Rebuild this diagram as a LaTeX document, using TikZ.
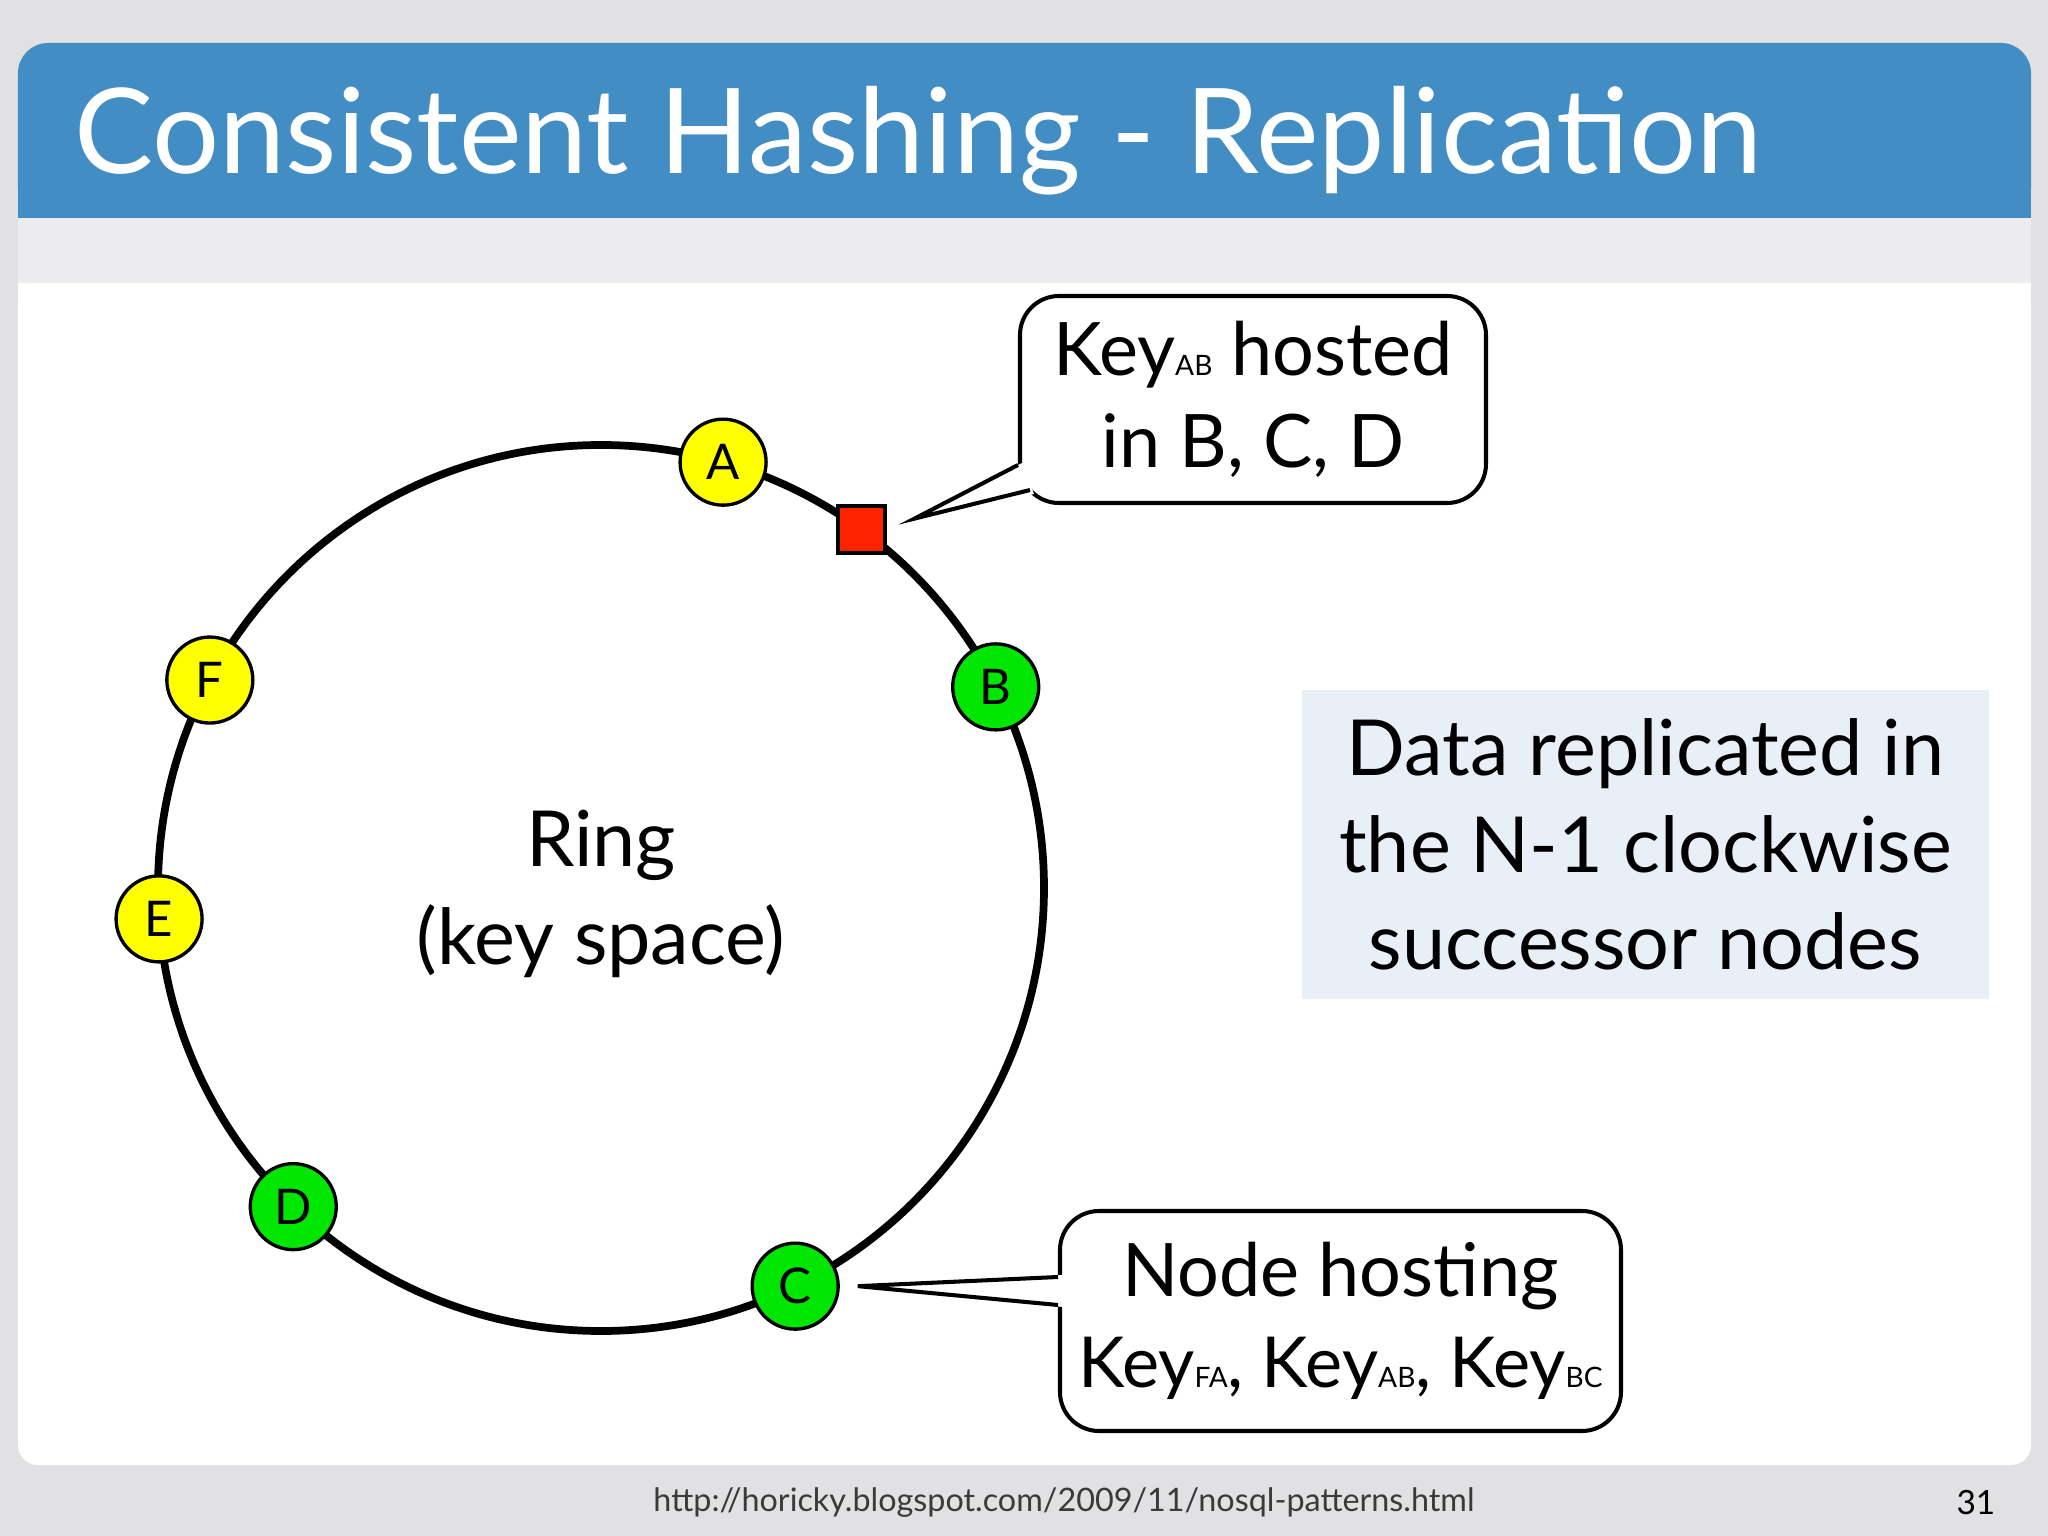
\documentclass[tikz,border=0pt]{standalone}
\usepackage{fontspec}
\setmainfont{Lato}
\usetikzlibrary{positioning,calc}

\definecolor{pagegray}{HTML}{E1E1E3}
\definecolor{bandgray}{HTML}{ECECEE}
\definecolor{titleblue}{HTML}{418DC4}
\definecolor{noteblue}{HTML}{E9EFF7}
\definecolor{hostyellow}{HTML}{FFFF00}
\definecolor{hostgreen}{HTML}{00E600}
\definecolor{keyred}{HTML}{FF2200}
\definecolor{urlgray}{HTML}{3A3A3A}
\newcommand{\keysub}[1]{{\fontsize{8}{9}\selectfont #1}}

\begin{document}
\begin{tikzpicture}[
    host/.style={circle, draw, fill=#1, minimum size=0.86cm, inner sep=0pt,
                 line width=0.95pt, font=\fontsize{14}{14}\selectfont},
    host/.default=hostyellow,
    ringline/.style={circle, draw, line width=2.2pt, minimum size=8.86cm,
                     inner sep=0pt, outer sep=0pt},
    keybox/.style={draw, fill=keyred, minimum size=0.47cm, inner sep=0pt,
                   line width=0.95pt},
    callout/.style={draw, fill=white, rounded corners=0.39cm, line width=1.15pt,
                    align=center, inner sep=0pt, font=\fontsize{21}{26}\selectfont},
    note/.style={fill=noteblue, align=center, inner sep=0pt,
                 font=\fontsize{22}{27.6}\selectfont},
    tail/.style={line width=1.15pt, line join=miter},
]

\useasboundingbox (0,0) rectangle (20.48,-15.36);

% ===== Slide background =====
\fill[pagegray] (0,0) rectangle (20.48,-15.36);
\fill[titleblue, rounded corners=0.3cm] (0.18,-0.43) rectangle (20.31,-2.18);
\fill[titleblue] (0.18,-1.2) rectangle (20.31,-2.18);
\fill[bandgray] (0.18,-2.18) rectangle (20.31,-2.83);
\fill[white, rounded corners=0.2cm] (0.18,-2.83) rectangle (20.31,-14.65);
\fill[white] (0.18,-2.83) rectangle (20.31,-13.5);

\node[anchor=base west, text=white, font=\fontsize{33.7}{34}\selectfont, inner sep=0pt]
    (title) at (0.74,-1.74) {Consistent Hashing - Replication};

% ===== Ring with hosts =====
\node[ringline] (ring) at (6.01,-8.88) {};
\node[align=center, font=\fontsize{22}{28}\selectfont] (ringlabel)
    at ($(ring.center)+(0,-0.06)$) {Ring\\(key space)};

\node[host]           (A) at (ring.74.6)  {A};
\node[host=hostgreen] (B) at (ring.27.1)  {B};
\node[host=hostgreen] (C) at (ring.-64.4) {C};
\node[host=hostgreen] (D) at (ring.-134.9) {D};
\node[host]           (E) at (ring.184.8) {E};
\node[host]           (F) at (ring.152.1) {F};
\node[keybox]       (key) at (ring.54.8)  {};

% ===== Callout: key placement =====
\node[callout, minimum width=4.66cm, minimum height=2.07cm]
    (keyinfo) at (12.53,-3.995) {Key\keysub{AB} hosted\\in B, C, D};
\coordinate (keytip) at ($(key.east)+(0.28,0.11)$);
\fill[white] ($(keyinfo.south west)+(0.04,0.42)$) -- (keytip)
    -- ($(keyinfo.south west)+(0.16,0.11)$) -- cycle;
\draw[tail] ($(keyinfo.south west)+(0,0.40)$) -- (keytip)
    -- ($(keyinfo.south west)+(0.12,0.15)$);

% ===== Callout: host C =====
\node[callout, minimum width=5.61cm, minimum height=2.20cm]
    (hostinfo) at (13.405,-13.21)
    {Node hosting\\{\fontsize{20}{26}\selectfont Key\keysub{FA}, Key\keysub{AB}, Key\keysub{BC}}};
\coordinate (hosttip) at ($(C.east)+(0.18,0)$);
\fill[white] ($(hostinfo.west)+(0.05,0.46)$) -- (hosttip)
    -- ($(hostinfo.west)+(0.05,0.14)$) -- cycle;
\draw[tail] ($(hostinfo.west)+(0,0.44)$) -- (hosttip)
    -- ($(hostinfo.west)+(0,0.16)$);

% ===== Replication note =====
\node[note, minimum width=6.87cm, minimum height=3.09cm]
    (rule) at (16.455,-8.445) {Data replicated in\\the N-1 clockwise\\successor nodes};

% ===== Footer =====
\node[font=\fontsize{9.2}{10}\selectfont, text=urlgray]
    (url) at (10.64,-15.03) {http://horicky.blogspot.com/2009/11/nosql-patterns.html};
\node[font=\fontsize{9.5}{10}\selectfont, anchor=east, inner sep=0pt]
    (page) at (19.96,-15.03) {31};

\end{tikzpicture}
\end{document}
